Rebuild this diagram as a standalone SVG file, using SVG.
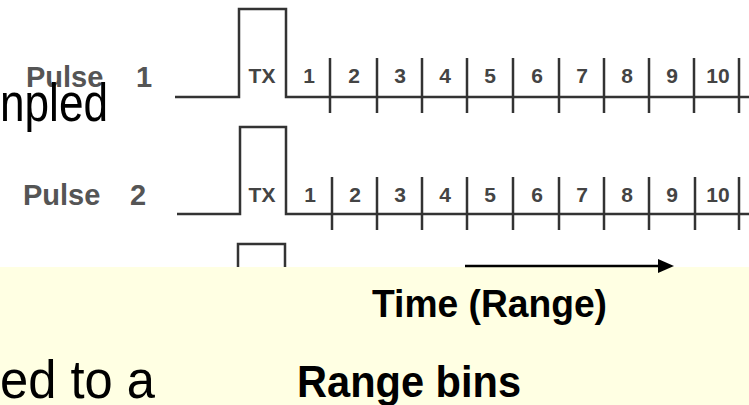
<svg xmlns="http://www.w3.org/2000/svg" width="749" height="405" viewBox="0 0 749 405">
<defs>
<style>
.wave{fill:none;stroke:#333;stroke-width:2.5}
.tick{stroke:#333;stroke-width:2.5}
.num{font-family:"Liberation Sans",Arial,sans-serif;font-weight:bold;font-size:21px;fill:#444;text-anchor:middle}
.plab{font-family:"Liberation Sans",Arial,sans-serif;font-weight:bold;font-size:29px;fill:#555}
.big{font-family:"Liberation Sans",Arial,sans-serif;fill:#000}
</style>
</defs>
<rect width="749" height="405" fill="#fff"/>
<rect id="band" x="0" y="267" width="749" height="138" fill="#FFFFE3"/>

<g id="pulse1">
<path class="wave" d="M175,97 H239 V9 H286 V97 H749"/>
<g class="tick">
<line x1="330" y1="58" x2="330" y2="113"/><line x1="377" y1="58" x2="377" y2="113"/><line x1="422" y1="58" x2="422" y2="113"/><line x1="467" y1="58" x2="467" y2="113"/><line x1="513" y1="58" x2="513" y2="113"/><line x1="559" y1="58" x2="559" y2="113"/><line x1="604" y1="58" x2="604" y2="113"/><line x1="649" y1="58" x2="649" y2="113"/><line x1="694" y1="58" x2="694" y2="113"/><line x1="739" y1="58" x2="739" y2="113"/>
</g>
<text class="plab" x="26" y="87">Pulse</text><text class="plab" x="136" y="87">1</text>
<text class="num" x="262" y="83">TX</text>
<text class="num" x="309" y="83">1</text><text class="num" x="354" y="83">2</text><text class="num" x="400" y="83">3</text><text class="num" x="445" y="83">4</text><text class="num" x="490" y="83">5</text><text class="num" x="537" y="83">6</text><text class="num" x="582" y="83">7</text><text class="num" x="627" y="83">8</text><text class="num" x="672" y="83">9</text><text class="num" x="718" y="83">10</text>
</g>

<g id="pulse2">
<path class="wave" d="M177,214 H240 V127 H286 V214 H749"/>
<g class="tick">
<line x1="332" y1="177" x2="332" y2="230"/><line x1="377" y1="177" x2="377" y2="230"/><line x1="422" y1="177" x2="422" y2="230"/><line x1="467" y1="177" x2="467" y2="230"/><line x1="513" y1="177" x2="513" y2="230"/><line x1="559" y1="177" x2="559" y2="230"/><line x1="604" y1="177" x2="604" y2="230"/><line x1="649" y1="177" x2="649" y2="230"/><line x1="695" y1="177" x2="695" y2="230"/><line x1="739" y1="177" x2="739" y2="230"/>
</g>
<text class="plab" x="23" y="205">Pulse</text><text class="plab" x="130" y="205">2</text>
<text class="num" x="262" y="202">TX</text>
<text class="num" x="310" y="202">1</text><text class="num" x="355" y="202">2</text><text class="num" x="400" y="202">3</text><text class="num" x="445" y="202">4</text><text class="num" x="490" y="202">5</text><text class="num" x="537" y="202">6</text><text class="num" x="582" y="202">7</text><text class="num" x="627" y="202">8</text><text class="num" x="672" y="202">9</text><text class="num" x="718" y="202">10</text>
</g>

<g id="pulse3">
<path class="wave" d="M238,267 V244 H285 V267"/>
</g>

<g id="connectors">
<line x1="465" y1="266" x2="660" y2="266" stroke="#000" stroke-width="2.5"/>
<polygon points="658,259 674,266 658,273" fill="#000"/>
</g>

<text class="big" transform="translate(0,121) scale(1,1.18)" font-size="45" textLength="108" lengthAdjust="spacingAndGlyphs">npled</text>
<text class="big" transform="translate(372,317) scale(1,1.2)" font-size="33" font-weight="bold" textLength="235" lengthAdjust="spacingAndGlyphs">Time (Range)</text>
<text class="big" transform="translate(297,397) scale(1,1.15)" font-size="38" font-weight="bold" textLength="224" lengthAdjust="spacingAndGlyphs">Range bins</text>
<text class="big" transform="translate(0,398) scale(1,1.15)" font-size="46" textLength="155" lengthAdjust="spacingAndGlyphs">ed to a</text>
</svg>
